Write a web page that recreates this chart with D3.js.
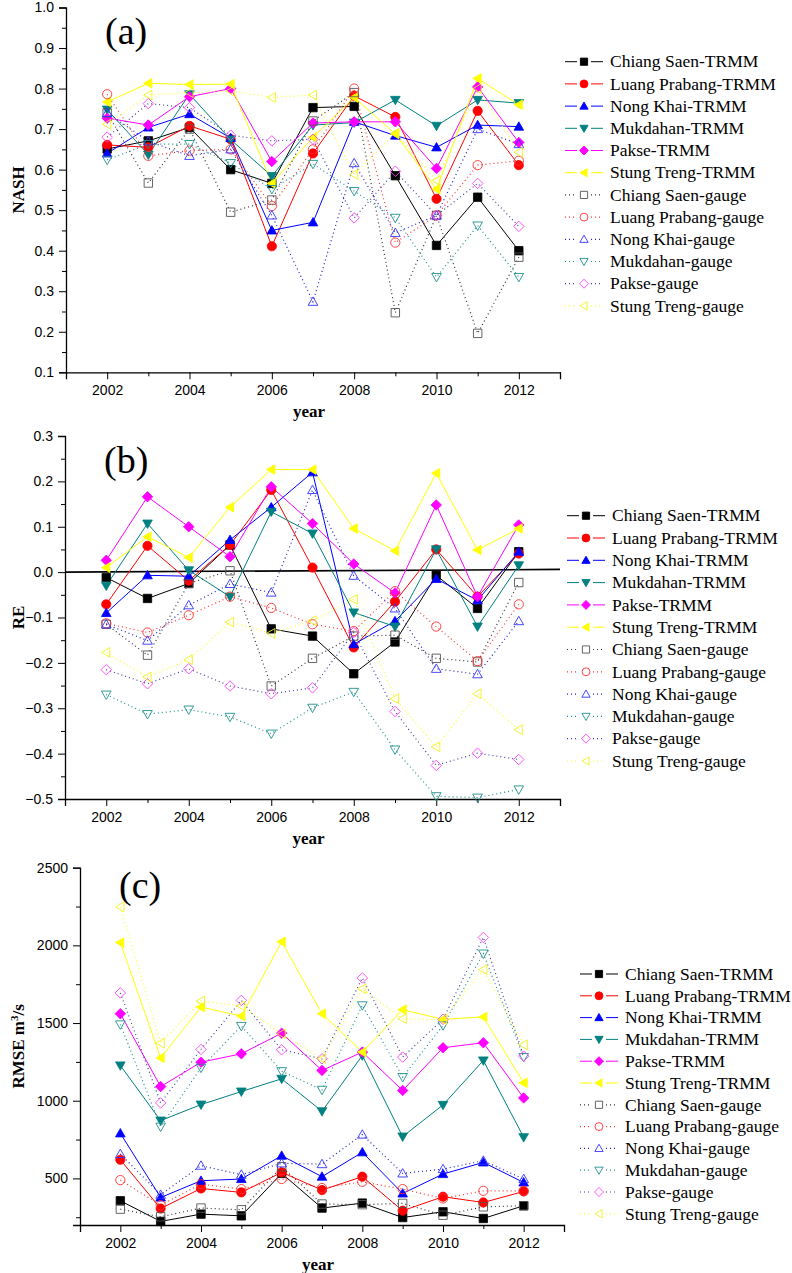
<!DOCTYPE html>
<html><head><meta charset="utf-8">
<script src="https://cdn.jsdelivr.net/npm/d3@7"></script>
<style>
body{margin:0;background:#fff;}
svg{display:block;}
</style></head>
<body>
<svg id="chart" width="792" height="1273"></svg>
<script>
const years = [2002,2003,2004,2005,2006,2007,2008,2009,2010,2011,2012];
const seriesNames = ["Chiang Saen-TRMM","Luang Prabang-TRMM","Nong Khai-TRMM","Mukdahan-TRMM","Pakse-TRMM","Stung Treng-TRMM",
  "Chiang Saen-gauge","Luang Prabang-gauge","Nong Khai-gauge","Mukdahan-gauge","Pakse-gauge","Stung Treng-gauge"];

// (a) NASH
const nashChiangSaenTRMM   = [0.651,0.671,0.704,0.600,0.566,0.753,0.756,0.585,0.413,0.532,0.400];
const nashLuangPrabangTRMM = [0.661,0.655,0.708,0.675,0.411,0.640,0.782,0.730,0.528,0.745,0.611];
const nashNongKhaiTRMM     = [0.640,0.704,0.737,0.678,0.450,0.470,0.718,0.684,0.655,0.710,0.706];
const nashMukdahanTRMM     = [0.748,0.637,0.786,0.674,0.584,0.710,0.716,0.772,0.708,0.772,0.764];
const nashPakseTRMM        = [0.727,0.710,0.780,0.800,0.620,0.715,0.718,0.718,0.603,0.804,0.667];
const nashStungTrengTRMM   = [0.767,0.813,0.810,0.811,0.566,0.680,0.778,0.688,0.552,0.825,0.760];
const nashChiangSaenGauge  = [0.740,0.567,0.700,0.495,0.525,0.720,0.790,0.247,0.487,0.196,0.384];
const nashLuangPrabangGauge= [0.786,0.634,0.647,0.650,0.510,0.650,0.800,0.420,0.487,0.611,0.622];
const nashNongKhaiGauge    = [0.740,0.670,0.634,0.650,0.487,0.274,0.616,0.444,0.487,0.700,0.663];
const nashMukdahanGauge    = [0.624,0.663,0.663,0.616,0.552,0.614,0.547,0.481,0.335,0.462,0.335];
const nashPakseGauge       = [0.680,0.763,0.753,0.685,0.671,0.675,0.481,0.596,0.487,0.566,0.460];
const nashStungTrengGauge  = [0.712,0.784,0.790,0.794,0.778,0.784,0.588,0.690,0.573,0.800,0.643];

// (b) RE
const reChiangSaenTRMM   = [-0.012,-0.058,-0.025,0.060,-0.125,-0.141,-0.224,-0.154,-0.007,-0.080,0.045];
const reLuangPrabangTRMM = [-0.071,0.058,-0.019,0.060,0.181,0.010,-0.166,-0.065,0.050,-0.054,0.041];
const reNongKhaiTRMM     = [-0.090,-0.007,-0.009,0.071,0.143,0.220,-0.159,-0.108,-0.015,-0.062,0.045];
const reMukdahanTRMM     = [-0.030,0.107,0.004,-0.054,0.133,0.085,-0.089,-0.120,0.050,-0.120,0.015];
const rePakseTRMM        = [0.026,0.166,0.100,0.034,0.188,0.107,0.018,-0.046,0.148,-0.054,0.104];
const reStungTrengTRMM   = [0.010,0.078,0.032,0.143,0.226,0.226,0.096,0.047,0.218,0.049,0.096];
const reChiangSaenGauge  = [-0.115,-0.183,-0.025,0.003,-0.251,-0.190,-0.141,-0.139,-0.190,-0.198,-0.023];
const reLuangPrabangGauge= [-0.113,-0.133,-0.095,-0.054,-0.079,-0.115,-0.130,-0.042,-0.120,-0.196,-0.071];
const reNongKhaiGauge    = [-0.115,-0.151,-0.073,-0.026,-0.045,0.181,-0.008,-0.080,-0.213,-0.225,-0.108];
const reMukdahanGauge    = [-0.270,-0.313,-0.303,-0.319,-0.356,-0.299,-0.264,-0.391,-0.494,-0.497,-0.479];
const rePakseGauge       = [-0.215,-0.246,-0.213,-0.251,-0.268,-0.255,-0.133,-0.307,-0.426,-0.399,-0.413];
const reStungTrengGauge  = [-0.177,-0.231,-0.193,-0.110,-0.135,-0.107,-0.060,-0.279,-0.385,-0.268,-0.347];

// (c) RMSE m3/s
const rmseChiangSaenTRMM   = [356,223,270,259,532,309,341,248,285,242,324];
const rmseLuangPrabangTRMM = [620,306,435,410,539,425,511,292,382,345,416];
const rmseNongKhaiTRMM     = [790,377,485,496,646,511,668,403,528,603,474];
const rmseMukdahanTRMM     = [1227,872,975,1059,1141,932,1291,769,973,1259,765];
const rmsePakseTRMM        = [1560,1091,1248,1302,1435,1195,1313,1066,1341,1373,1018];
const rmseStungTrengTRMM   = [2018,1276,1603,1545,2023,1560,1313,1586,1524,1539,1115];
const rmseChiangSaenGauge  = [302,253,309,298,575,335,331,339,263,317,324];
const rmseLuangPrabangGauge= [489,328,463,431,496,438,478,431,371,420,420];
const rmseNongKhaiGauge    = [657,395,582,524,597,592,782,532,560,614,496];
const rmseMukdahanGauge    = [1491,833,1212,1481,1190,1070,1614,1152,1485,1947,1281];
const rmsePakseGauge       = [1694,986,1330,1646,1328,1270,1790,1281,1524,2051,1287];
const rmseStungTrengGauge  = [2248,1371,1642,1610,1431,1270,1720,1528,1521,1844,1360];

const nashTicks = [0.1,0.2,0.3,0.4,0.5,0.6,0.7,0.8,0.9,1.0];
const reTicks = [-0.5,-0.4,-0.3,-0.2,-0.1,0.0,0.1,0.2,0.3];
const rmseTicks = [500,1000,1500,2000,2500];
const yearTicks = [2002,2004,2006,2008,2010,2012];

// styles (not data)
const styles = [
  {shape:"square", fill:"#000", stroke:"#000", line:"#000", dash:null},
  {shape:"circle", fill:"#ff0000", stroke:"#ff0000", line:"#ff0000", dash:null},
  {shape:"up", fill:"#0000ff", stroke:"#0000ff", line:"#0000ff", dash:null},
  {shape:"down", fill:"#008080", stroke:"#008080", line:"#008080", dash:null},
  {shape:"diamond", fill:"#ff00ff", stroke:"#ff00ff", line:"#ff00ff", dash:null},
  {shape:"left", fill:"#ffff00", stroke:"#ffff00", line:"#ffff00", dash:null},
  {shape:"square", fill:"none", stroke:"#555", line:"#333", dash:"1,3"},
  {shape:"circle", fill:"none", stroke:"#ff3030", line:"#ff3030", dash:"1,3"},
  {shape:"up", fill:"none", stroke:"#3333ff", line:"#2020d0", dash:"1,3"},
  {shape:"down", fill:"none", stroke:"#209090", line:"#209090", dash:"1,3"},
  {shape:"diamond", fill:"none", stroke:"#ff40ff", line:"#4040a0", dash:"1,3"},
  {shape:"left", fill:"none", stroke:"#f0f020", line:"#ffff20", dash:"1,3"}
];

function shapePath(shape, s){
  switch(shape){
    case "square": return `M${-s},${-s}h${2*s}v${2*s}h${-2*s}Z`;
    case "circle": return d3.arc()({innerRadius:0,outerRadius:s*1.1,startAngle:0,endAngle:2*Math.PI});
    case "up": return `M0,${-s*1.15}L${s*1.15},${s*0.85}L${-s*1.15},${s*0.85}Z`;
    case "down": return `M0,${s*1.15}L${s*1.15},${-s*0.85}L${-s*1.15},${-s*0.85}Z`;
    case "diamond": return `M0,${-s*1.25}L${s*1.25},0L0,${s*1.25}L${-s*1.25},0Z`;
    case "left": return `M${-s*1.15},0L${s*0.85},${-s*1.15}L${s*0.85},${s*1.15}Z`;
  }
}

const svg = d3.select("#chart");
const serif = "'Liberation Serif','Times New Roman',serif";
const sans = "'Liberation Sans',Arial,sans-serif";

function panel(cfg){
  const g = svg.append("g");
  const x = d3.scaleLinear().domain([2001,2013]).range(cfg.xr);
  const y = d3.scaleLinear().domain(cfg.yd).range(cfg.yr);

  // y axis
  const ya = d3.axisLeft(y).tickValues(cfg.yTicks).tickFormat(cfg.yFmt).tickSize(7).tickPadding(5);
  const yMinor = d3.axisLeft(y).tickValues(cfg.yMinor).tickFormat("").tickSize(4);
  g.append("g").attr("transform",`translate(${cfg.xr[0]},0)`).call(ya);
  g.append("g").attr("transform",`translate(${cfg.xr[0]},0)`).call(yMinor).select(".domain").remove();
  // x axis
  const xa = d3.axisBottom(x).tickValues(yearTicks).tickFormat(d3.format("d")).tickSize(7).tickPadding(6);
  const xMinor = d3.axisBottom(x).tickValues([2001,2003,2005,2007,2009,2011,2013]).tickFormat("").tickSize(4);
  g.append("g").attr("transform",`translate(0,${cfg.yr[0]})`).call(xa);
  g.append("g").attr("transform",`translate(0,${cfg.yr[0]})`).call(xMinor).select(".domain").remove();
  g.selectAll(".domain").attr("stroke","#000").attr("stroke-width",1.3);
  g.selectAll(".tick line").attr("stroke","#000").attr("stroke-width",1);
  g.selectAll(".tick text").attr("font-family",sans).attr("font-size",14).attr("fill","#000");

  if(cfg.zeroLine){
    g.append("line").attr("x1",x(2001)).attr("x2",x(2013)).attr("y1",y(0)).attr("y2",y(0.006))
      .attr("stroke","#000").attr("stroke-width",1.6);
  }

  // series
  const line = d3.line().x((d,i)=>x(years[i])).y(d=>y(d));
  cfg.series.forEach((vals,k)=>{
    const st = styles[k];
    g.append("path").attr("d",line(vals)).attr("fill","none").attr("stroke",st.line)
      .attr("stroke-width", st.dash?1.2:1).attr("stroke-dasharray",st.dash);
  });
  cfg.series.forEach((vals,k)=>{
    const st = styles[k];
    g.append("g").selectAll("path").data(vals).join("path")
      .attr("transform",(d,i)=>`translate(${x(years[i])},${y(d)})`)
      .attr("d",shapePath(st.shape, 4.2))
      .attr("fill",st.dash?"none":st.fill)
      .attr("stroke",st.stroke).attr("stroke-width",st.dash?0.9:0.8);
  });

  // panel label
  g.append("text").attr("x",cfg.xr[0]+39).attr("y",cfg.labY).text(cfg.label)
    .attr("font-family",serif).attr("font-size",38);

  // x title
  g.append("text").attr("x",(cfg.xr[0]+cfg.xr[1])/2-4).attr("y",cfg.yr[0]+45).attr("text-anchor","middle")
    .attr("font-family",serif).attr("font-weight","bold").attr("font-size",17).text("year");

  // y title
  const yt = g.append("text").attr("transform",`translate(24,${(cfg.yr[0]+cfg.yr[1])/2}) rotate(-90)`)
    .attr("text-anchor","middle").attr("font-family",serif).attr("font-weight","bold").attr("font-size",17);
  if(cfg.yTitleSup){
    yt.append("tspan").text(cfg.yTitle);
    yt.append("tspan").attr("baseline-shift","super").attr("font-size",11).text(cfg.yTitleSup);
    yt.append("tspan").text(cfg.yTitleEnd);
  } else yt.text(cfg.yTitle);

  // legend
  const lg = g.append("g");
  seriesNames.forEach((name,k)=>{
    const st = styles[k];
    const yy = cfg.leg.y0 + k*cfg.leg.dy;
    const cx = cfg.leg.x0 + 19;
    lg.append("line").attr("x1",cfg.leg.x0).attr("x2",cx-7).attr("y1",yy).attr("y2",yy)
      .attr("stroke",st.line).attr("stroke-width",st.dash?1.2:1).attr("stroke-dasharray",st.dash);
    lg.append("line").attr("x1",cx+7).attr("x2",cfg.leg.x0+38).attr("y1",yy).attr("y2",yy)
      .attr("stroke",st.line).attr("stroke-width",st.dash?1.2:1).attr("stroke-dasharray",st.dash);
    lg.append("path").attr("transform",`translate(${cx},${yy})`).attr("d",shapePath(st.shape,3.6))
      .attr("fill",st.dash?"none":st.fill).attr("stroke",st.stroke).attr("stroke-width",0.9);
    lg.append("text").attr("x",cfg.leg.x0+45).attr("y",yy).attr("dy","0.33em")
      .attr("font-family",serif).attr("font-size",17.5).attr("fill","#000").text(name);
  });
}

panel({
  xr:[66,560], yd:[0.1,1.0], yr:[372.3,7.5], yTicks:nashTicks, yFmt:d3.format(".1f"),
  yMinor:d3.range(0.15,1.0,0.1), label:"(a)", labY:44, yTitle:"NASH",
  series:[nashChiangSaenTRMM,nashLuangPrabangTRMM,nashNongKhaiTRMM,nashMukdahanTRMM,nashPakseTRMM,nashStungTrengTRMM,
          nashChiangSaenGauge,nashLuangPrabangGauge,nashNongKhaiGauge,nashMukdahanGauge,nashPakseGauge,nashStungTrengGauge],
  leg:{x0:565,y0:61.7,dy:22.2}
});
panel({
  xr:[65,560], yd:[-0.5,0.3], yr:[799,436], yTicks:reTicks, yFmt:d3.format(".1f"),
  yMinor:d3.range(-0.45,0.3,0.1), label:"(b)", labY:473, yTitle:"RE", zeroLine:true,
  series:[reChiangSaenTRMM,reLuangPrabangTRMM,reNongKhaiTRMM,reMukdahanTRMM,rePakseTRMM,reStungTrengTRMM,
          reChiangSaenGauge,reLuangPrabangGauge,reNongKhaiGauge,reMukdahanGauge,rePakseGauge,reStungTrengGauge],
  leg:{x0:567,y0:515.7,dy:22.3}
});
panel({
  xr:[80,564], yd:[200,2500], yr:[1225,867.7], yTicks:rmseTicks, yFmt:d3.format("d"),
  yMinor:[250,750,1250,1750,2250], label:"(c)", labY:898, yTitle:"RMSE m", yTitleSup:"3", yTitleEnd:"/s",
  series:[rmseChiangSaenTRMM,rmseLuangPrabangTRMM,rmseNongKhaiTRMM,rmseMukdahanTRMM,rmsePakseTRMM,rmseStungTrengTRMM,
          rmseChiangSaenGauge,rmseLuangPrabangGauge,rmseNongKhaiGauge,rmseMukdahanGauge,rmsePakseGauge,rmseStungTrengGauge],
  leg:{x0:580,y0:974,dy:21.8}
});
</script>
</body></html>
